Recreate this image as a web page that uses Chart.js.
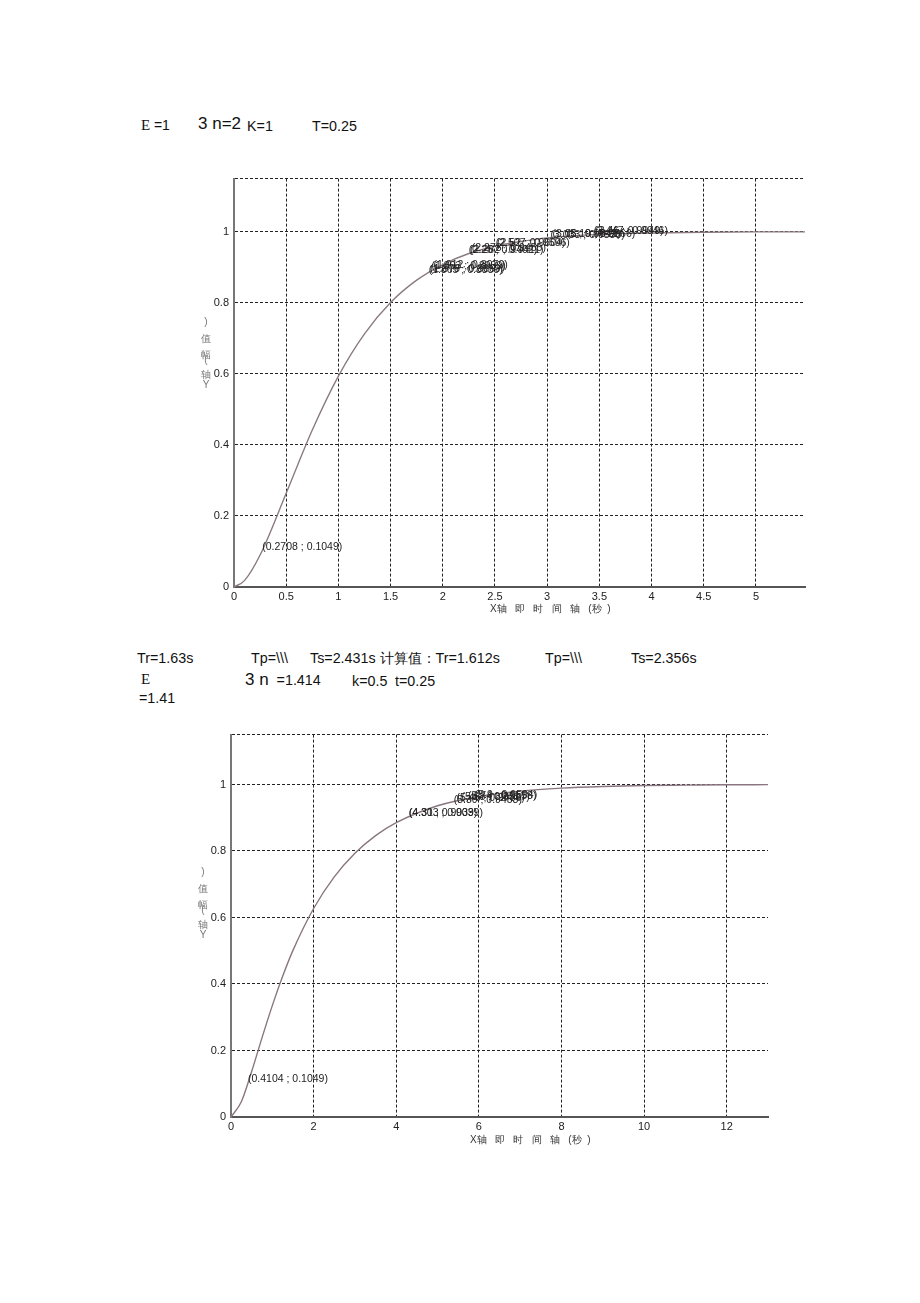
<!DOCTYPE html>
<html>
<head>
<meta charset="utf-8">
<script src="https://cdn.jsdelivr.net/npm/chart.js@4/dist/chart.umd.min.js"></script>
<style>
  body { margin: 0; background: #fff; width: 920px; height: 1303px; position: relative; overflow: hidden; }
  .t { position: absolute; font-family: "Liberation Sans", Arial, sans-serif; font-size: 14.3px; color: #111; line-height: 16px; white-space: pre; }
  .serif { font-family: "Liberation Serif", "Times New Roman", serif; font-size: 15px; }
  .big { font-size: 17px; }
  canvas { position: absolute; }
</style>
</head>
<body>
<!-- texto de parámetros -->
<div class="t serif" style="left:141px; top:117px;">E <span style="font-family:'Liberation Sans';font-size:14px">=1</span></div>
<div class="t big" style="left:198px; top:116px;">3 n=2</div>
<div class="t" style="left:247px; top:118px;">K=1</div>
<div class="t" style="left:312px; top:118px;">T=0.25</div>

<div class="t" style="left:137px; top:650px;">Tr=1.63s</div>
<div class="t" style="left:251px; top:650px;">Tp=\\\</div>
<div class="t" style="left:310px; top:650px;">Ts=2.431s 计算值：Tr=1.612s</div>
<div class="t" style="left:545px; top:650px;">Tp=\\\</div>
<div class="t" style="left:631px; top:650px;">Ts=2.356s</div>
<div class="t serif" style="left:141px; top:671px;">E</div>
<div class="t" style="left:245px; top:672px;"><span style="font-size:17px">3 n</span>  =1.414</div>
<div class="t" style="left:352px; top:673px;">k=0.5</div>
<div class="t" style="left:395px; top:673px;">t=0.25</div>
<div class="t" style="left:139px; top:690px;">=1.41</div>

<canvas id="c1" style="left:180px; top:167px;"></canvas>
<canvas id="c2" style="left:180px; top:723px;"></canvas>

<script>
// Datos gráfico 1 (ξ=1, ωn=2)
const t1 = [0, 0.1, 0.25, 0.5, 0.75, 1.0, 1.25, 1.5, 1.75, 2.0, 2.25, 2.5, 2.75, 3.0, 3.5, 4.0, 4.5, 5.0, 5.47];
const y1 = [0, 0.018, 0.090, 0.264, 0.442, 0.594, 0.713, 0.801, 0.864, 0.908, 0.939, 0.960, 0.973, 0.983, 0.993, 0.997, 0.999, 1.0, 1.0];
const xTicks1 = [0, 0.5, 1, 1.5, 2, 2.5, 3, 3.5, 4, 4.5, 5];
const xTickLabels1 = ['0', '0.5', '1', '1.5', '2', '2.5', '3', '3.5', '4', '4.5', '5'];
const tip1X = [0.2708, 1.865, 1.878, 1.893, 1.912, 2.25, 2.262, 2.278, 2.507, 2.52, 3.033, 3.05, 3.19, 3.447, 3.46];
const tip1Y = [0.1049, 0.8839, 0.8869, 0.8939, 0.8979, 0.9402, 0.9411, 0.9455, 0.9596, 0.9604, 0.9838, 0.9842, 0.9866, 0.9946, 0.9949];

// Datos gráfico 2 (ξ=1.41, ωn=1.414)
const t2 = [0, 0.25, 0.5, 0.75, 1, 1.25, 1.5, 2, 2.5, 3, 3.5, 4, 5, 6, 7, 8, 9, 10, 11, 12, 13];
const y2 = [0, 0.046, 0.137, 0.238, 0.335, 0.423, 0.501, 0.627, 0.722, 0.793, 0.846, 0.885, 0.936, 0.964, 0.980, 0.989, 0.994, 0.997, 0.998, 0.999, 0.9995];
const xTicks2 = [0, 2, 4, 6, 8, 10, 12];
const xTickLabels2 = ['0', '2', '4', '6', '8', '10', '12'];
const tip2X = [0.4104, 4.303, 4.31, 5.39, 5.46, 5.58, 5.74, 5.9];
const tip2Y = [0.1049, 0.9039, 0.9039, 0.9453, 0.9486, 0.9517, 0.9558, 0.9594];

// Eje Y común
const yTicks = [0, 0.2, 0.4, 0.6, 0.8, 1];
const yTickLabels = ['0', '0.2', '0.4', '0.6', '0.8', '1'];
const yLabelChars = [')', '值', '幅', '(', '轴', 'Y'];
const xLabelText = 'X轴   即   时   间   轴   (秒  )';

// Plugin: datatips y etiquetas de ejes
const extras = {
  id: 'extras',
  afterDatasetsDraw(chart, args, o) {
    const ctx = chart.ctx;
    const xs = chart.scales.x, ys = chart.scales.y;
    ctx.save();
    ctx.font = '10.5px "Liberation Sans", Arial, sans-serif';
    ctx.fillStyle = '#222';
    ctx.textBaseline = 'middle';
    ctx.textAlign = 'left';
    o.tipX.forEach((tx, i) => {
      const px = xs.getPixelForValue(tx);
      const py = ys.getPixelForValue(o.tipY[i]);
      ctx.fillText(`(${tx} ; ${o.tipY[i]})`, px, py - 3);
    });
    // etiqueta X
    ctx.font = '10px "Liberation Sans", Arial, sans-serif';
    ctx.fillStyle = '#333';
    ctx.fillText(xLabelText, o.xLabelX, o.xLabelY);
    // etiqueta Y (caracteres apilados)
    ctx.fillStyle = '#777';
    ctx.textAlign = 'center';
    const offs = [0, 17, 33, 38, 53, 63];
    yLabelChars.forEach((ch, i) => {
      ctx.fillText(ch, o.yLabelX, o.yLabelY + offs[i]);
    });
    ctx.restore();
  }
};

function makeChart(id, w, h, tx, ty, xTicks, xLabels, xMax, yW, xH, padR, tipX, tipY, xl, yl, color) {
  const canvas = document.getElementById(id);
  canvas.width = w; canvas.height = h;
  canvas.style.width = w + 'px'; canvas.style.height = h + 'px';
  const tickFont = { family: '"Liberation Sans", Arial, sans-serif', size: 11 };
  return new Chart(canvas.getContext('2d'), {
    type: 'line',
    data: {
      datasets: [{
        data: tx.map((x, i) => ({ x: x, y: ty[i] })),
        borderColor: color,
        borderWidth: 1.4,
        pointRadius: 0,
        cubicInterpolationMode: 'monotone',
        fill: false
      }]
    },
    options: {
      responsive: false,
      animation: false,
      devicePixelRatio: 1,
      layout: { padding: { top: 10, right: padR, left: 0, bottom: 0 } },
      plugins: {
        legend: { display: false },
        tooltip: { enabled: false },
        extras: { tipX, tipY, xLabelX: xl[0], xLabelY: xl[1], yLabelX: yl[0], yLabelY: yl[1] }
      },
      scales: {
        x: {
          type: 'linear', min: 0, max: xMax,
          afterBuildTicks: s => { s.ticks = xTicks.map(v => ({ value: v })); },
          afterFit: s => { s.height = xH; },
          ticks: {
            color: '#222', font: tickFont, padding: 3, maxRotation: 0, autoSkip: false,
            callback: v => { const k = xTicks.indexOf(v); return k >= 0 ? xLabels[k] : ''; }
          },
          grid: { color: '#222', lineWidth: 1, drawTicks: false },
          border: { display: true, color: '#555', width: 2, dash: [3, 2] }
        },
        y: {
          type: 'linear', min: 0, max: 1.15,
          afterBuildTicks: s => { s.ticks = yTicks.concat([1.15]).map(v => ({ value: v })); },
          afterFit: s => { s.width = yW; },
          ticks: {
            color: '#222', font: tickFont, padding: 5, autoSkip: false,
            callback: v => { const k = yTicks.indexOf(v); return k >= 0 ? yTickLabels[k] : ''; }
          },
          grid: { color: '#222', lineWidth: 1, drawTicks: false },
          border: { display: true, color: '#777', width: 2, dash: [3, 2] }
        }
      }
    },
    plugins: [extras]
  });
}

// Gráfico 1: área 234..805 x 177..587
makeChart('c1', 640, 450, t1, y1, xTicks1, xTickLabels1, 5.47, 54, 30, 15, tip1X, tip1Y,
  [310, 442], [26, 155], '#8c7b7e');
// Gráfico 2: área 231..768 x 733..1117
makeChart('c2', 600, 430, t2, y2, xTicks2, xTickLabels2, 13.0, 51, 36, 12, tip2X, tip2Y,
  [290, 417], [23, 149], '#8a7680');
</script>
</body>
</html>
